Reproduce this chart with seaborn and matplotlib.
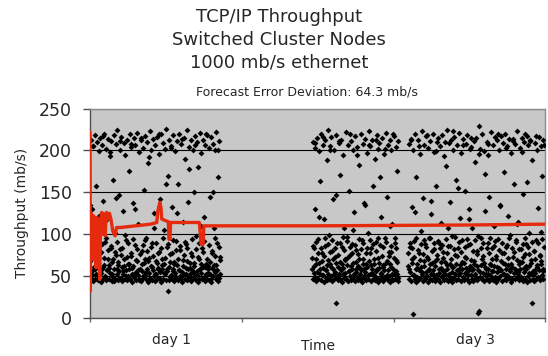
import numpy as np
import pandas as pd
import matplotlib
matplotlib.use('Agg')
import matplotlib.pyplot as plt
import seaborn as sns

# ---------------- data ----------------
title_lines = ['TCP/IP Throughput', 'Switched Cluster Nodes', '1000 mb/s ethernet']
subtitle = 'Forecast Error Deviation: 64.3 mb/s'
day_labels = ['day 1', 'day 2', 'day 3']
y_ticks = [0, 50, 100, 150, 200, 250]

# measurement segments: (start day, end day)
seg_spans = [(0.003, 0.857), (1.463, 2.03), (2.096, 2.99)]

seg1_y = [
    135, 48, 212, 56, 130, 44, 205, 72, 61, 218, 47, 158, 52, 88, 210, 45, 66, 199, 122, 53,
    215, 43, 79, 58, 207, 47, 140, 63, 220, 50, 91, 45, 202, 57, 118, 70, 214, 46, 60, 193,
    54, 84, 211, 44, 67, 165, 49, 218, 58, 101, 46, 208, 75, 52, 224, 63, 45, 147, 56, 200,
    82, 48, 216, 61, 44, 128, 53, 209, 70, 47, 195, 57, 93, 45, 213, 65, 50, 176, 59, 219,
    46, 74, 204, 52, 43, 137, 62, 215, 49, 87, 206, 55, 45, 221, 68, 51, 112, 47, 198, 58,
    212, 44, 80, 56, 203, 48, 153, 66, 217, 51, 46, 96, 210, 59, 43, 185, 72, 54, 223, 47,
    62, 201, 45, 89, 57, 214, 50, 125, 44, 207, 68, 53, 216, 46, 78, 60, 196, 48, 142, 55,
    219, 43, 71, 58, 209, 47, 105, 64, 202, 52, 45, 226, 85, 56, 32, 170, 61, 213, 49, 76,
    51, 205, 46, 132, 59, 218, 44, 67, 199, 54, 92, 48, 211, 63, 45, 160, 57, 220, 50, 81,
    47, 208, 55, 43, 115, 69, 215, 52, 46, 190, 60, 88, 224, 45, 58, 138, 49, 204, 66, 53,
    212, 44, 74, 57, 201, 48, 150, 62, 217, 51, 45, 98, 210, 56, 43, 180, 70, 47, 221, 59,
    54, 197, 46, 84, 61, 213, 49, 120, 44, 206, 65, 52, 218, 47, 62, 58, 203, 45, 145, 53,
    216, 43, 77, 60, 208, 50, 108, 63, 200, 55, 46, 222, 90, 57, 44, 168, 48, 211, 52, 73,
]
seg1b_y = [
    68, 83, 51, 205, 74, 59, 92, 47, 66, 115, 78, 54, 88, 217, 61, 72, 49, 95, 57, 81,
    63, 198, 86, 52, 70, 44, 79, 143, 58, 91, 67, 48, 211, 75, 84, 56, 62, 99, 50, 73,
    89, 65, 46, 208, 77, 60, 94, 53, 130, 69, 82, 57, 45, 76, 215, 64, 87, 51, 71, 93,
    55, 80, 68, 192, 48, 85, 61, 74, 107, 52, 90, 66, 58, 220, 79, 47, 83, 63, 96, 54,
    72, 160, 59, 88, 45, 67, 203, 78, 56, 93, 64, 50, 81, 125, 70, 57, 86, 49, 214, 62,
    75, 91, 53, 68, 84, 46, 178, 60, 77, 94, 55, 66, 207, 82, 51, 73, 89, 58, 110, 65,
    48, 79, 92, 61, 219, 70, 54, 87, 67, 47, 80, 150, 57, 74, 95, 63, 50, 201, 85, 69,
]

seg2_y = [
    58, 210, 46, 83, 62, 203, 49, 130, 71, 44, 215, 55, 94, 47, 199, 66, 52, 163, 45, 220,
    77, 51, 207, 60, 43, 118, 86, 212, 48, 57, 188, 45, 69, 224, 53, 99, 46, 205, 64, 50,
    216, 44, 80, 58, 142, 47, 201, 73, 55, 18, 218, 49, 90, 61, 45, 209, 52, 171, 67, 46,
    57, 213, 43, 85, 60, 195, 48, 108, 71, 54, 222, 46, 97, 63, 44, 206, 56, 152, 50, 75,
    211, 45, 59, 88, 47, 200, 66, 52, 126, 44, 217, 58, 81, 49, 204, 62, 45, 183, 70, 53,
    46, 219, 57, 93, 43, 208, 64, 50, 137, 48, 214, 55, 78, 45, 197, 61, 102, 47, 223, 68,
    52, 205, 44, 84, 59, 212, 47, 158, 65, 51, 190, 45, 91, 56, 218, 48, 72, 43, 202, 60,
    209, 46, 87, 54, 121, 49, 215, 63, 44, 196, 57, 96, 48, 221, 66, 51, 145, 45, 207, 74,
    50, 213, 43, 79, 61, 200, 47, 112, 58, 45, 217, 53, 89, 46, 204, 69, 52, 176, 44, 211,
]
seg2b_y = [
    72, 86, 54, 209, 65, 91, 48, 77, 120, 59, 83, 68, 51, 216, 74, 95, 57, 63, 88, 46,
    79, 200, 61, 93, 70, 53, 84, 147, 66, 49, 75, 211, 89, 58, 64, 97, 52, 81, 69, 47,
    92, 73, 56, 219, 85, 62, 78, 105, 50, 87, 67, 55, 194, 76, 94, 60, 82, 48, 71, 90,
    58, 135, 65, 84, 51, 206, 77, 93, 63, 54, 88, 70, 46, 213, 80, 59, 96, 66, 168, 53,
    74, 85, 61, 49, 202, 91, 68, 57, 79, 110, 64, 86, 52, 220, 72, 95, 56, 83, 67, 48,
]

seg3_y = [
    62, 208, 47, 85, 55, 214, 44, 133, 70, 5, 201, 51, 92, 46, 219, 58, 43, 168, 64, 49,
    212, 45, 77, 57, 196, 48, 104, 61, 223, 52, 44, 143, 68, 206, 46, 88, 55, 217, 50, 73,
    43, 203, 59, 95, 47, 211, 53, 124, 66, 45, 220, 57, 82, 48, 198, 62, 44, 157, 51, 210,
    71, 46, 215, 54, 90, 43, 205, 60, 113, 49, 218, 56, 79, 45, 193, 67, 52, 181, 47, 224,
    58, 44, 86, 209, 50, 64, 139, 46, 213, 55, 98, 43, 200, 61, 48, 216, 75, 53, 165, 45,
    207, 57, 83, 47, 221, 52, 119, 63, 44, 197, 59, 93, 49, 214, 66, 45, 151, 54, 208, 72,
    46, 218, 56, 87, 43, 130, 60, 202, 62, 51, 204, 47, 107, 58, 44, 211, 68, 52, 186, 48,
    215, 45, 80, 57, 6, 8, 229, 49, 202, 63, 96, 46, 219, 54, 74, 44, 199, 61, 128, 50,
    53, 210, 47, 89, 59, 195, 44, 145, 65, 51, 222, 48, 84, 56, 206, 45, 110, 62, 216, 49,
    70, 43, 212, 55, 94, 46, 201, 60, 135, 50, 217, 57, 78, 44, 209, 66, 52, 174, 47, 220,
    58, 45, 85, 205, 51, 63, 122, 48, 214, 56, 99, 43, 197, 61, 47, 211, 73, 54, 160, 46,
    208, 57, 91, 49, 223, 53, 115, 64, 45, 203, 59, 82, 48, 215, 67, 44, 148, 55, 210, 76,
    46, 219, 58, 88, 43, 217, 206, 50, 102, 62, 45, 213, 69, 52, 189, 18, 47, 56, 80, 44,
    209, 54, 93, 47, 200, 61, 131, 49, 216, 57, 75, 45, 205, 65, 51, 170, 46, 212, 59, 85,
]
seg3b_y = [
    77, 58, 90, 212, 66, 84, 51, 73, 127, 95, 60, 81, 47, 205, 69, 88, 55, 76, 93, 62,
    49, 85, 218, 71, 57, 96, 64, 140, 80, 53, 89, 68, 46, 199, 75, 92, 59, 83, 67, 50,
    87, 72, 56, 210, 94, 63, 78, 108, 52, 86, 70, 61, 223, 48, 82, 97, 65, 74, 155, 58,
    91, 54, 79, 67, 207, 46, 85, 73, 60, 94, 51, 118, 88, 69, 215, 57, 80, 64, 93, 49,
    76, 62, 98, 196, 55, 84, 71, 47, 89, 66, 172, 59, 83, 52, 208, 78, 95, 63, 70, 56,
    86, 48, 92, 74, 61, 220, 81, 57, 134, 68, 90, 53, 77, 65, 203, 50, 87, 72, 96, 59,
    64, 84, 46, 214, 79, 58, 93, 69, 112, 55, 82, 67, 49, 198, 88, 73, 60, 95, 62, 162,
    85, 54, 76, 211, 66, 91, 51, 80, 70, 57, 217, 63, 89, 48, 74, 103, 68, 94, 56, 206,
]

forecast_t = [0.0, 0.002, 0.005, 0.012, 0.018, 0.024, 0.03, 0.034, 0.04, 0.046,
              0.052, 0.058, 0.064, 0.07, 0.078, 0.085, 0.092, 0.1, 0.108, 0.118,
              0.128, 0.138, 0.15, 0.165, 0.175, 0.2, 0.3, 0.4, 0.44, 0.447,
              0.46, 0.467, 0.473, 0.5, 0.516, 0.52, 0.527, 0.531, 0.72, 0.732,
              0.745, 0.75, 1.0, 1.5, 2.0, 2.5, 3.0]
forecast_v = [222, 32, 126, 118, 70, 122, 80, 115, 60, 120,
              108, 100, 46, 118, 126, 100, 124, 98, 126, 118,
              125, 118, 104, 98, 108, 108, 110, 112, 114, 128,
              138, 132, 118, 116, 115, 94, 94, 114, 114, 88,
              88, 110, 110, 110, 110.5, 111, 112]

# ---------------- build table ----------------
frames = []
series = [(seg_spans[0], seg1_y), (seg_spans[0], seg1b_y),
          (seg_spans[1], seg2_y), (seg_spans[1], seg2b_y),
          (seg_spans[2], seg3_y), (seg_spans[2], seg3b_y)]
for (t0, t1), ys in series:
    frames.append(pd.DataFrame({'time': np.linspace(t0, t1, len(ys)),
                                'throughput': ys}))
df = pd.concat(frames, ignore_index=True)
fc = pd.DataFrame({'time': forecast_t, 'forecast': forecast_v})

# ---------------- style ----------------
sns.set_style('white')
plt.rcParams['font.family'] = ['DejaVu Sans']

fig = plt.figure(figsize=(5.48, 3.56), dpi=100)
ax = fig.add_axes([0.1642, 0.1067, 0.8312, 0.5885])
ax.set_facecolor('#c8c8c8')

sns.scatterplot(data=df, x='time', y='throughput', marker='D', s=9,
                color='black', linewidth=0, ax=ax, zorder=3)
sns.lineplot(data=fc, x='time', y='forecast', color='#e62a0d', lw=2.4,
             estimator=None, sort=False, ax=ax, zorder=4)

ax.set_xlim(0, 3)
ax.set_ylim(0, 250)

# grid
ax.set_axisbelow(True)
ax.yaxis.grid(True, color='black', lw=0.8)
ax.xaxis.grid(False)

# spines
for side in ['left', 'bottom']:
    ax.spines[side].set_color('#505050')
    ax.spines[side].set_linewidth(1.0)
for side in ['top', 'right']:
    ax.spines[side].set_color('#8a8a8a')
    ax.spines[side].set_linewidth(1.0)

# y ticks
ax.set_yticks(y_ticks)
ax.set_yticklabels([str(v) for v in y_ticks])
ax.tick_params(axis='y', which='major', direction='out', length=5, width=1,
               color='#505050', pad=8, labelsize=12.5, left=True)

# x ticks: majors at day boundaries, labels (every second day) centred in days
ax.set_xticks(range(len(day_labels) + 1))
ax.set_xticklabels([])
ax.tick_params(axis='x', which='major', direction='out', length=3, width=1,
               color='#707070', bottom=True)
ax.set_xticks([i + 0.54 for i in range(len(day_labels))], minor=True)
ax.set_xticklabels([lab if i % 2 == 0 else '' for i, lab in enumerate(day_labels)],
                   minor=True)
ax.tick_params(axis='x', which='minor', length=0, pad=11, labelsize=10)

ax.set_xlabel('Time', fontsize=10)
ax.xaxis.set_label_coords(0.5, -0.10)
ax.set_ylabel('Throughput (mb/s)', fontsize=10, va='center')
ax.yaxis.set_label_coords(-0.15, 0.5)

# titles
title_y = [0.939, 0.874, 0.810]
for line, yy in zip(title_lines, title_y):
    fig.text(0.509, yy, line, ha='center', va='baseline', fontsize=13)
fig.text(0.5597, 0.731, subtitle, ha='center', va='baseline', fontsize=9)

fig.savefig('out.png', dpi=100)
